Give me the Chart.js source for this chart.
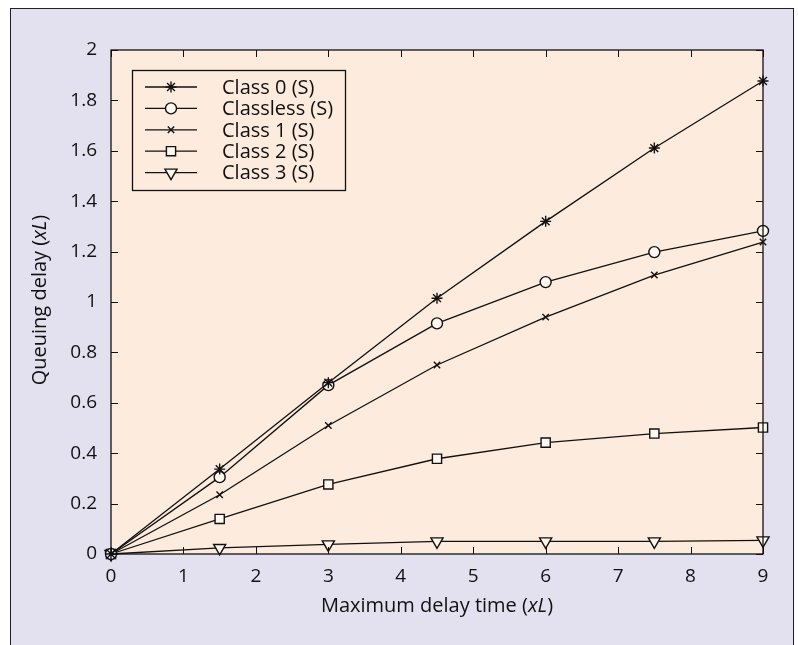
<!DOCTYPE html>
<html>
<head>
<meta charset="utf-8">
<script src="https://cdn.jsdelivr.net/npm/chart.js@4/dist/chart.umd.min.js"></script>
<style>
  html, body { margin: 0; padding: 0; background: #fff; }
</style>
</head>
<body>
<canvas id="canvas" width="798" height="645"></canvas>
<script>
// values
const delayTimes = [0, 1.5, 3, 4.5, 6, 7.5, 9];
const class0 = [0, 0.337, 0.68, 1.015, 1.32, 1.611, 1.877];
const classless = [0, 0.305, 0.67, 0.915, 1.079, 1.198, 1.282];
const class1 = [0, 0.235, 0.51, 0.75, 0.94, 1.107, 1.238];
const class2 = [0, 0.139, 0.276, 0.378, 0.442, 0.478, 0.502];
const class3 = [0, 0.024, 0.038, 0.05, 0.05, 0.05, 0.054];
const seriesNames = ['Class 0 (S)', 'Classless (S)', 'Class 1 (S)', 'Class 2 (S)', 'Class 3 (S)'];
const xTickLabels = ['0', '1', '2', '3', '4', '5', '6', '7', '8', '9'];
const yTickLabels = ['0', '0.2', '0.4', '0.6', '0.8', '1', '1.2', '1.4', '1.6', '1.8', '2'];

const FONT = "'Open Sans', 'DejaVu Sans', sans-serif";
const INK = '#111';

let styles = [
  { pointStyle: 'star', radius: 5.5, rotation: 0, bg: INK },
  { pointStyle: 'circle', radius: 5.5, rotation: 0, bg: '#fff8f0' },
  { pointStyle: 'crossRot', radius: 4.5, rotation: 0, bg: INK },
  { pointStyle: 'rect', radius: 6.5, rotation: 0, bg: '#fff8f0' },
  { pointStyle: 'triangle', radius: 7, rotation: 180, bg: '#fff8f0' }
];
let seriesData = [class0, classless, class1, class2, class3];

let datasets = seriesData.map(function(vals, i) {
  return {
    label: seriesNames[i],
    data: vals.map(function(v, j) { return { x: delayTimes[j], y: v }; }),
    borderColor: INK,
    borderWidth: 1.3,
    backgroundColor: styles[i].bg,
    pointStyle: styles[i].pointStyle,
    pointRadius: styles[i].radius,
    pointRotation: styles[i].rotation,
    pointBorderColor: INK,
    pointBorderWidth: 1.4,
    pointBackgroundColor: styles[i].bg,
    tension: 0,
    clip: false
  };
});

let drawMarker = function(ctx, st, x, y) {
  ctx.save();
  ctx.strokeStyle = INK;
  ctx.fillStyle = st.bg;
  ctx.lineWidth = 1.4;
  Chart.helpers.drawPoint(ctx, { pointStyle: st.pointStyle, radius: st.radius, rotation: st.rotation, borderWidth: 1.4 }, x, y);
  ctx.restore();
};

// draws a mix of upright and italic pieces, centred on (0,0)
let drawMixed = function(ctx, parts, size) {
  let total = 0;
  parts.forEach(function(p) {
    ctx.font = (p[1] ? 'italic ' : '') + size + 'px ' + FONT;
    total += ctx.measureText(p[0]).width;
  });
  let x = -total / 2;
  parts.forEach(function(p) {
    ctx.font = (p[1] ? 'italic ' : '') + size + 'px ' + FONT;
    ctx.fillText(p[0], x, 0);
    x += ctx.measureText(p[0]).width;
  });
};

let decor = {
  id: 'decor',
  beforeDraw: function(chart) {
    let ctx = chart.ctx, a = chart.chartArea;
    ctx.save();
    ctx.fillStyle = '#fff';
    ctx.fillRect(0, 0, chart.width, chart.height);
    ctx.fillStyle = '#e3e0ef';
    ctx.fillRect(10, 8, 784, 660);
    ctx.strokeStyle = '#222';
    ctx.lineWidth = 1;
    ctx.strokeRect(10.5, 8.5, 783, 660);
    ctx.fillStyle = '#fdebdd';
    ctx.fillRect(a.left, a.top, a.right - a.left, a.bottom - a.top);
    ctx.restore();
  },
  afterDatasetsDraw: function(chart) {
    let ctx = chart.ctx, a = chart.chartArea;
    let xs = chart.scales.x, ys = chart.scales.y;
    ctx.save();
    ctx.strokeStyle = INK;
    ctx.lineWidth = 1.3;
    ctx.strokeRect(a.left, a.top, a.right - a.left, a.bottom - a.top);
    // inward ticks on all four sides
    ctx.lineWidth = 1;
    ctx.beginPath();
    xs.ticks.forEach(function(t) {
      let px = Math.round(xs.getPixelForValue(t.value)) + 0.5;
      ctx.moveTo(px, a.bottom); ctx.lineTo(px, a.bottom - 7);
      ctx.moveTo(px, a.top); ctx.lineTo(px, a.top + 7);
    });
    ys.ticks.forEach(function(t) {
      let py = Math.round(ys.getPixelForValue(t.value)) + 0.5;
      ctx.moveTo(a.left, py); ctx.lineTo(a.left + 7, py);
      ctx.moveTo(a.right, py); ctx.lineTo(a.right - 7, py);
    });
    ctx.stroke();

    // legend box
    let lx = 132, ly = 70, lw = 213, lh = 120;
    ctx.fillStyle = '#fdebdd';
    ctx.fillRect(lx, ly, lw, lh);
    ctx.lineWidth = 1.3;
    ctx.strokeRect(lx + 0.5, ly + 0.5, lw, lh);
    ctx.font = '20px ' + FONT;
    ctx.textBaseline = 'middle';
    seriesNames.forEach(function(name, i) {
      let y = ly + 17 + i * 21.4;
      ctx.strokeStyle = INK;
      ctx.lineWidth = 1.3;
      ctx.beginPath();
      ctx.moveTo(145, y); ctx.lineTo(197, y);
      ctx.stroke();
      drawMarker(ctx, styles[i], 171, y);
      ctx.fillStyle = INK;
      ctx.textAlign = 'left';
      ctx.fillText(name, 222, y + 1);
    });

    // axis titles with italic xL
    ctx.fillStyle = INK;
    ctx.textBaseline = 'middle';
    ctx.textAlign = 'left';
    ctx.save();
    ctx.translate(437, 606);
    drawMixed(ctx, [['Maximum delay time (', false], ['xL', true], [')', false]], 20);
    ctx.restore();
    ctx.save();
    ctx.translate(40, 300);
    ctx.rotate(-Math.PI / 2);
    drawMixed(ctx, [['Queuing delay (', false], ['xL', true], [')', false]], 20);
    ctx.restore();
    ctx.restore();
  }
};

let ctx = document.getElementById('canvas').getContext('2d');
let delayChart = new Chart(ctx, {
  type: 'line',
  data: { datasets: datasets },
  options: {
    responsive: false,
    animation: false,
    layout: { padding: { left: 0, top: 50, right: 35, bottom: 0 } },
    plugins: { legend: { display: false }, tooltip: { enabled: false } },
    scales: {
      x: {
        type: 'linear', min: 0, max: 9,
        grid: { display: false, drawTicks: false },
        border: { display: false },
        ticks: {
          stepSize: 1, padding: 11, color: INK,
          font: { family: FONT, size: 19 },
          callback: function(v) { return xTickLabels[Math.round(v)]; }
        },
        afterFit: function(s) { s.height = 91; }
      },
      y: {
        type: 'linear', min: 0, max: 2,
        grid: { display: false, drawTicks: false },
        border: { display: false },
        ticks: {
          stepSize: 0.2, padding: 14, color: INK,
          font: { family: FONT, size: 19 },
          callback: function(v) { return yTickLabels[Math.round(v * 5)]; }
        },
        afterFit: function(s) { s.width = 111; }
      }
    }
  },
  plugins: [decor]
});
</script>
</body>
</html>
